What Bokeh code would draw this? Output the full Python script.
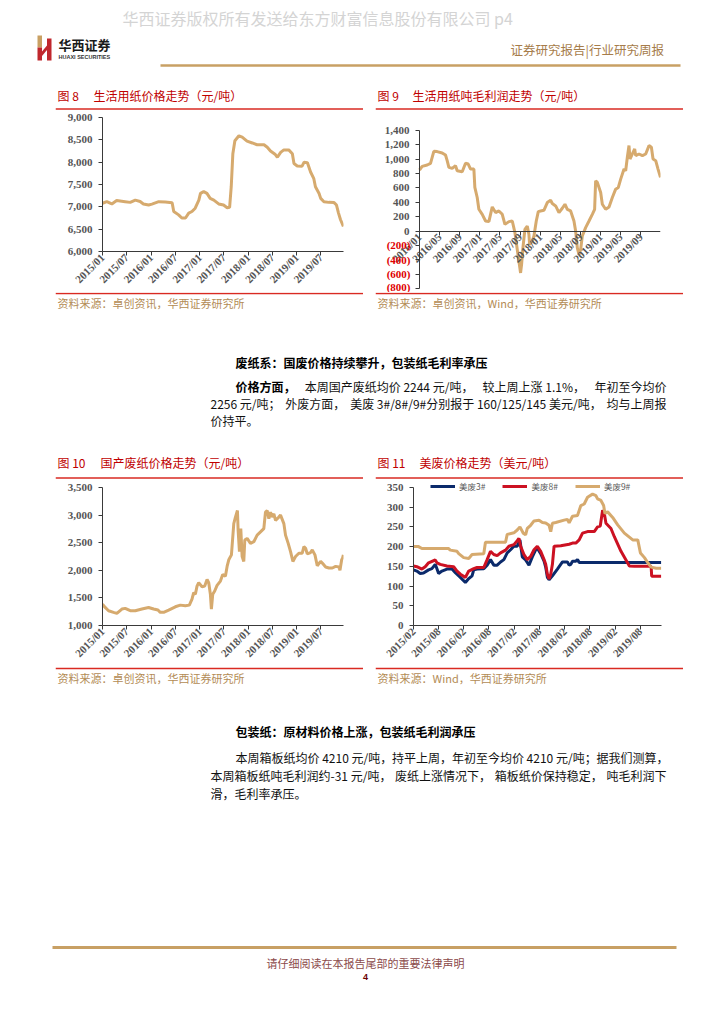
import numpy as np
import pandas as pd
from math import pi
from bokeh.plotting import figure
from bokeh.models import (Range1d, FixedTicker, NumeralTickFormatter, CustomJSTickFormatter,
                          Legend, LegendItem, Spacer, LinearAxis)
from bokeh.layouts import column, row
from bokeh.core.properties import value
from bokeh.embed import file_html
from bokeh.resources import INLINE

# ---------------- data (x = months after the series start date) ----------------
c8_start = "2015-01-01"
c8_months = [0, 1.07, 2.3, 3.5, 5.6, 6.85, 8.1, 9.3, 10.1, 11.4, 12.2, 13.9, 15.5, 17.2, 17.6, 18.8, 19.6,
             20.5, 21.3, 22.1, 22.9, 23.8, 24.2, 25.0, 25.8, 26.6, 27.5, 28.7, 29.9, 30.8, 31.4, 31.8, 32.2,
             32.7, 33.7, 34.5, 35.7, 37.0, 38.2, 39.9, 40.7, 41.5, 42.7, 43.2, 44.0, 44.8, 46.0, 46.9, 47.3,
             48.1, 49.3, 49.8, 50.6, 51.4, 52.2, 52.6, 53.5, 53.9, 54.7, 55.9, 57.2, 57.8, 58.3, 58.8, 59.5]
c8_price = [7080, 7117, 7065, 7140, 7115, 7100, 7150, 7120, 7065, 7040, 7060, 7115, 7110, 7090, 6895, 6820,
            6750, 6750, 6860, 6895, 6970, 7150, 7300, 7340, 7300, 7190, 7150, 7065, 7040, 6980, 6990, 7450,
            8190, 8480, 8590, 8560, 8470, 8430, 8390, 8390, 8335, 8250, 8170, 8110, 8220, 8275, 8275, 8190,
            7970, 7915, 7910, 8000, 7990, 7780, 7630, 7450, 7300, 7190, 7115, 7100, 7095, 7040, 6860, 6710, 6560]

c9_start = "2016-01-01"
c9_end = "2019-12-29"
c9_months = [0, 0.53, 1.53, 2.19, 2.52, 2.85, 3.51, 4.51, 5.17, 5.5, 5.84, 6.5, 7.16, 7.49, 8.49, 9.15, 9.68,
             10.15, 10.81, 11.0, 11.47, 11.8, 12.47, 13.13, 13.79, 14.46, 15.12, 15.78, 16.45, 16.98, 17.77,
             18.44, 18.97, 19.43, 19.76, 20.09, 20.29, 20.56, 20.95, 21.42, 21.75, 21.88, 22.41, 22.75, 23.21,
             23.61, 24.07, 24.73, 25.4, 26.06, 26.39, 27.06, 27.72, 28.38, 28.91, 29.38, 30.04, 30.7, 31.03,
             31.37, 31.7, 32.03, 32.36, 33.02, 33.69, 34.35, 34.81, 35.01, 35.35, 35.68, 36.01, 36.34, 37.0,
             37.67, 38.33, 38.99, 39.52, 39.99, 40.65, 40.98, 41.31, 41.64, 41.84, 42.31, 42.77, 42.97, 43.63,
             44.3, 44.96, 45.62, 46.09, 46.42, 46.95, 47.41, 47.9]
c9_profit = [850, 900, 920, 943, 1027, 1110, 1106, 1087, 1059, 980, 887, 873, 910, 840, 826, 943, 933, 863,
             863, 607, 467, 303, 233, 140, 131, 336, 257, 280, 233, 93, 131, 140, -23, -257, -420, -583, -467,
             -233, 23, 70, -47, -187, -140, -70, 140, 271, 280, 289, 397, 429, 383, 350, 257, 317, 373, 303,
             280, 140, 0, -233, -327, -257, -70, 47, 140, 233, 303, 700, 677, 607, 537, 373, 303, 336, 467,
             583, 607, 723, 863, 840, 1027, 1190, 1003, 1073, 1143, 1050, 1073, 1050, 1073, 1190, 1167, 1003,
             980, 863, 747]

c10_start = "2015-01-01"
c10_months = [0, 0.66, 1.49, 2.72, 3.55, 4.79, 5.61, 6.85, 8.09, 9.74, 11.39, 12.62, 13.7, 14.27, 15.1,
              16.34, 17.99, 19.22, 20.46, 21.45, 22.11, 22.52, 22.94, 23.35, 23.76, 24.59, 25.25, 25.83, 26.24,
              26.65, 26.9, 27.23, 27.72, 28.3, 29.13, 29.7, 30.36, 30.78, 31.19, 31.85, 32.43, 32.84, 33.33,
              33.5, 33.83, 34.16, 34.49, 34.9, 35.15, 35.73, 36.55, 37.38, 38.2, 39.03, 39.85, 40.26, 40.68,
              41.09, 41.5, 41.91, 42.33, 42.74, 43.56, 43.98, 44.8, 45.21, 45.87, 46.45, 47.03, 47.69, 48.51,
              49.34, 49.75, 50.17, 50.58, 51.4, 51.82, 52.48, 53.05, 53.88, 54.29, 55.12, 55.94, 56.77, 57.59,
              58.42, 58.66, 59.08, 59.3, 59.5]
c10_price = [1387, 1327, 1268, 1238, 1220, 1298, 1310, 1268, 1268, 1298, 1327, 1298, 1280, 1238, 1238, 1280,
             1339, 1369, 1357, 1369, 1476, 1595, 1565, 1714, 1774, 1702, 1714, 1833, 1774, 1565, 1298, 1565,
             1625, 1726, 1804, 1923, 1893, 2071, 2190, 2280, 2845, 2964, 3083, 2726, 2339, 2756, 2250, 2161,
             2548, 2577, 2488, 2518, 2637, 2696, 2756, 3054, 3083, 2935, 3054, 2964, 3024, 2905, 2964, 3000,
             2845, 2637, 2488, 2339, 2161, 2250, 2310, 2310, 2429, 2399, 2298, 2322, 2369, 2280, 2083, 2161,
             2131, 2060, 2042, 2042, 2071, 2060, 2000, 2190, 2220, 2280]

c11_start = "2015-02-01"
c11_names = ["美废3#", "美废8#", "美废9#"]
c11_m3 = [0, 0.8, 1.59, 2.39, 3.59, 4.38, 5.18, 5.58, 5.98, 6.77, 7.97, 9.16, 9.96, 11.16, 12.35, 13.15,
          13.94, 14.34, 15.14, 16.73, 17.53, 18.33, 19.12, 19.92, 20.72, 21.51, 22.31, 23.11, 23.9, 24.7,
          25.34, 25.9, 26.69, 27.49, 28.29, 29.08, 29.48, 30.28, 31.08, 31.47, 31.87, 32.27, 33.07, 34.26,
          35.46, 36.65, 37.05, 37.45, 37.85, 38.65, 39.04, 39.44, 58.96]
c11_v3 = [141, 138, 132, 133, 141, 144, 155, 144, 132, 138, 143, 143, 134, 122, 109, 119, 126, 141, 143, 144,
          153, 167, 153, 153, 161, 167, 184, 192, 201, 201, 217, 174, 166, 153, 174, 192, 196, 182, 163, 148,
          122, 116, 126, 143, 161, 161, 153, 155, 163, 163, 167, 160, 160]
c11_m8 = [0, 0.8, 2.0, 2.79, 3.59, 5.18, 5.58, 6.37, 7.97, 9.56, 10.36, 11.16, 12.35, 13.15, 14.34, 15.14,
          16.73, 17.53, 18.33, 19.12, 19.92, 20.72, 21.91, 22.71, 23.9, 24.7, 25.1, 25.5, 26.29, 27.09, 27.89,
          28.69, 29.48, 30.28, 31.08, 31.47, 31.87, 32.27, 32.67, 33.07, 33.47, 35.06, 37.05, 37.85, 38.65,
          39.44, 40.24, 41.43, 43.03, 43.82, 44.46, 45.02, 45.42, 45.82, 47.01, 47.81, 49.4, 51.39, 52.59,
          56.57, 56.7, 58.96]
c11_v8 = [151, 149, 143, 149, 159, 166, 159, 155, 151, 149, 138, 130, 122, 138, 144, 147, 147, 167, 188, 180,
          177, 184, 191, 201, 205, 215, 221, 201, 180, 167, 175, 192, 201, 188, 167, 155, 130, 118, 130, 155,
          201, 202, 206, 209, 209, 217, 234, 238, 238, 250, 252, 292, 284, 259, 246, 225, 188, 151, 150, 150,
          125, 125]
c11_m9 = [0, 1.2, 2.0, 7.17, 8.37, 8.76, 10.36, 10.76, 11.95, 13.15, 13.94, 16.73, 17.13, 21.91, 22.31, 23.9,
          24.7, 25.34, 26.14, 26.69, 27.09, 27.89, 28.69, 29.88, 30.68, 31.47, 32.27, 32.67, 33.07, 33.86,
          35.86, 36.65, 37.05, 37.85, 39.04, 39.84, 40.64, 41.43, 42.63, 43.43, 43.82, 44.62, 45.26, 45.58,
          46.22, 47.41, 48.61, 50.2, 52.19, 53.39, 54.02, 54.98, 55.78, 56.57, 57.77, 58.96]
c11_v9 = [200, 200, 195, 195, 195, 191, 188, 182, 172, 170, 180, 182, 211, 211, 231, 235, 242, 250, 234, 230,
          246, 254, 265, 267, 261, 260, 254, 238, 259, 261, 267, 269, 260, 277, 279, 304, 308, 325, 333, 329,
          321, 317, 304, 284, 288, 274, 255, 234, 217, 217, 184, 172, 159, 148, 145, 145]

c8_xticks = ["2015-01-01", "2015-07-01", "2016-01-01", "2016-07-01", "2017-01-01", "2017-07-01",
             "2018-01-01", "2018-07-01", "2019-01-01", "2019-07-01"]
c9_xticks = ["2016-01-01", "2016-05-01", "2016-09-01", "2017-01-01", "2017-05-01", "2017-09-01",
             "2018-01-01", "2018-05-01", "2018-09-01", "2019-01-01", "2019-05-01", "2019-09-01"]
c11_xticks = ["2015-02-01", "2015-08-01", "2016-02-01", "2016-08-01", "2017-02-01", "2017-08-01",
              "2018-02-01", "2018-08-01", "2019-02-01", "2019-08-01"]
c8_yticks = [6000, 6500, 7000, 7500, 8000, 8500, 9000]
c9_yticks = [-800, -600, -400, -200, 0, 200, 400, 600, 800, 1000, 1200, 1400]
c10_yticks = [1000, 1500, 2000, 2500, 3000, 3500]
c11_yticks = [0, 50, 100, 150, 200, 250, 300, 350]

fig_nums = ["图 8", "图 9", "图 10", "图 11"]
titles = ["生活用纸价格走势（元/吨）", "生活用纸吨毛利润走势（元/吨）",
          "国产废纸价格走势（元/吨）", "美废价格走势（美元/吨）"]
sources = ["资料来源：卓创资讯，华西证券研究所", "资料来源：卓创资讯，Wind，华西证券研究所",
           "资料来源：卓创资讯，华西证券研究所", "资料来源：Wind，华西证券研究所"]

# ---------------- styles ----------------
CJK = "Noto Sans CJK SC"
TAN = "#d6aa6e"
RED_RULE = "#d92a22"
SRC = "#b38b55"
AXC = "#3a3a3a"
LBL = "#555555"


def ms(t):
    return pd.Timestamp(t).value / 1e6


def month_dates(start, months):
    return pd.Timestamp(start) + pd.to_timedelta(np.array(months) * 30.4375, unit="D")


def decor(w, h, x0, y0):
    p = figure(width=w, height=h, x_range=Range1d(x0, x0 + w), y_range=Range1d(y0 + h, y0),
               output_backend="svg", toolbar_location=None, min_border=0,
               min_border_left=0, min_border_right=0, min_border_top=0, min_border_bottom=0,
               x_axis_location=None, y_axis_location=None)
    p.frame_align = False
    p.grid.visible = False
    p.outline_line_color = None
    p.background_fill_color = "white"
    p.border_fill_color = "white"
    return p


def put(p, x, y, t, size, color, bold=False, font=CJK, align="left"):
    p.text(x=[x], y=[y], text=[t], text_font=value(font), text_font_size=value(size),
           text_color=color, text_font_style=value("bold" if bold else "normal"),
           text_align=value(align), text_baseline=value("middle"))


def est_width(s, px):
    w = 0.0
    for ch in s:
        if ord(ch) >= 0x2E80:
            w += 1.0
        elif ch.isdigit():
            w += 0.55
        elif ch == " ":
            w += 0.25
        elif ch == "%":
            w += 0.85
        elif ch in "./":
            w += 0.36
        elif ch == "#":
            w += 0.6
        elif ch == "-":
            w += 0.35
        else:
            w += 0.55
    return w * px


def justify(p, xl, xr, y, pieces, px=12, color="#111111"):
    widths = [est_width(t, px) for t, _ in pieces]
    gap = (xr - xl - sum(widths)) / (len(pieces) - 1)
    x = xl
    for (t, b), w in zip(pieces, widths):
        put(p, x, y, t, "%gpx" % px, "#000000" if b else color, bold=b)
        x += w + gap


date_fmt = CustomJSTickFormatter(code="""
const d = new Date(tick);
const m = d.getUTCMonth() + 1;
return d.getUTCFullYear() + '/' + (m < 10 ? '0' + m : '' + m);
""")


def style_axis(ax):
    ax.axis_line_color = AXC
    ax.axis_line_width = 1
    ax.major_tick_line_color = AXC
    ax.major_tick_out = 4
    ax.major_tick_in = 0
    ax.minor_tick_line_color = None
    ax.major_label_text_font = "Liberation Serif"
    ax.major_label_text_font_style = "bold"
    ax.major_label_text_font_size = "11px"
    ax.major_label_text_color = LBL


def chart(w, h, xr, yr, bl, br, bt, bb, xticks, yticks, y_axis=True):
    p = figure(width=w, height=h, x_axis_type="datetime", x_range=xr, y_range=yr,
               output_backend="svg", toolbar_location=None,
               y_axis_location="left" if y_axis else None,
               min_border_left=bl, min_border_right=br, min_border_top=bt, min_border_bottom=bb)
    p.frame_align = False
    p.grid.visible = False
    p.outline_line_color = None
    p.background_fill_color = "white"
    p.border_fill_color = "white"
    p.xaxis.ticker = FixedTicker(ticks=[ms(t) for t in xticks], minor_ticks=[])
    p.xaxis.formatter = date_fmt
    if y_axis:
        p.yaxis.ticker = FixedTicker(ticks=yticks, minor_ticks=[])
        p.yaxis.formatter = NumeralTickFormatter(format="0,0")
        p.yaxis.major_label_standoff = 6
    for ax in p.axis:
        style_axis(ax)
    p.xaxis.major_label_orientation = pi / 4
    p.xaxis.major_label_standoff = 0
    return p


def title_fig(h, x0, y0, num, t, tx, ty, ly):
    f = decor(308, h, x0, y0)
    put(f, x0 + 2, ty, num, "12px", "#c00000")
    put(f, tx, ty, t, "12px", "#c00000")
    f.line([x0, x0 + 308], [ly, ly], line_color=RED_RULE, line_width=1.5)
    return f


def source_fig(h, x0, y0, t, ly, ty):
    f = decor(308, h, x0, y0)
    f.line([x0, x0 + 308], [ly, ly], line_color=RED_RULE, line_width=1.5)
    put(f, x0 + 2, ty, t, "11px", SRC)
    return f


W = 720

# ---------------- header ----------------
hdr = decor(W, 80, 0, 0)
put(hdr, 122, 17, "华西证券版权所有发送给东方财富信息股份有限公司 p4", "16px", "#d4d4d4")
hdr.quad(left=[37], right=[41.5], top=[35], bottom=[47], fill_color="#c9a063", line_color=None)
hdr.quad(left=[37, 46.5], right=[41.5, 51], top=[47, 38], bottom=[60, 60], fill_color="#c0272d", line_color=None)
hdr.patch([41.5, 46.5, 46.5, 41.5], [51, 45, 49.5, 55.5], fill_color="#c0272d", line_color=None)
put(hdr, 58, 44, "华西证券", "13px", "#1a1a1a", bold=True)
put(hdr, 58, 56.5, "HUAXI SECURITIES", "5.5px", "#333333", bold=True, font="Liberation Sans")
put(hdr, 510, 49, "证券研究报告|行业研究周报", "12.5px", "#a67c4a")
hdr.line([160, 680], [65, 65], line_color="#c8a064", line_width=2.5)

# ---------------- chart 8 ----------------
p8 = chart(308, 182, Range1d(ms("2015-01-01"), ms("2019-12-18")), Range1d(6000, 9000),
           47, 20, 7, 39, c8_xticks, c8_yticks)
p8.line(month_dates(c8_start, c8_months), c8_price, line_color=TAN, line_width=3)

# ---------------- chart 9 (axes cross at the data origin inside a wider frame) ----------------
# frame: x 377..660, y 124..292 ; data origin x=419, 1400 at y=130, -800 at y=288
span9 = ms(c9_end) - ms(c9_start)
x9_lo = ms(c9_start) - span9 * (419 - 377) / (660 - 419)
upp9 = (c9_yticks[-1] - c9_yticks[0]) / (288 - 130)
y9_hi = c9_yticks[-1] + (130 - 124) * upp9
y9_lo = c9_yticks[0] - (292 - 288) * upp9
p9 = chart(308, 182, Range1d(x9_lo, ms(c9_end)), Range1d(y9_lo, y9_hi),
           2, 23, 14, 0, c9_xticks, c9_yticks, y_axis=False)
p9.xaxis.fixed_location = 0
p9.xaxis.bounds = (ms(c9_start), ms(c9_end))
ya = LinearAxis(fixed_location=ms(c9_start), bounds=(c9_yticks[0], c9_yticks[-1]),
                ticker=FixedTicker(ticks=c9_yticks, minor_ticks=[]),
                formatter=CustomJSTickFormatter(code="return tick < 0 ? '' : tick.toLocaleString('en-US');"))
style_axis(ya)
ya.major_label_standoff = 6
yb = LinearAxis(fixed_location=ms(c9_start),
                ticker=FixedTicker(ticks=[t for t in c9_yticks if t < 0], minor_ticks=[]),
                formatter=CustomJSTickFormatter(code="return '(' + Math.abs(tick).toLocaleString('en-US') + ')';"))
style_axis(yb)
yb.axis_line_color = None
yb.major_tick_line_color = None
yb.major_label_standoff = 5
yb.major_label_text_color = "#e00000"
p9.add_layout(ya, "left")
p9.add_layout(yb, "left")
p9.line(month_dates(c9_start, c9_months), c9_profit, line_color=TAN, line_width=3)

# ---------------- chart 10 ----------------
p10 = chart(308, 187, Range1d(ms("2015-01-01"), ms("2019-12-18")), Range1d(1000, 3500),
            47, 20, 8, 39, c8_xticks, c10_yticks)
p10.line(month_dates(c10_start, c10_months), c10_price, line_color=TAN, line_width=3)

# ---------------- chart 11 ----------------
# frame top at y=481 (room for the legend), 350 at y=487, 0 at y=627
y11_hi = c11_yticks[-1] * (627 - 481) / (627 - 487)
p11 = chart(308, 187, Range1d(ms("2015-02-01"), ms("2020-01-03")), Range1d(0, y11_hi),
            38, 22, 2, 39, c11_xticks, c11_yticks)
p11.yaxis.bounds = (0, c11_yticks[-1])
r3 = p11.line(month_dates(c11_start, c11_m3), c11_v3, line_color="#0b2a6b", line_width=3)
r8 = p11.line(month_dates(c11_start, c11_m8), c11_v8, line_color="#cc1122", line_width=3)
r9 = p11.line(month_dates(c11_start, c11_m9), c11_v9, line_color=TAN, line_width=3)
leg = Legend(items=[LegendItem(label=c11_names[0], renderers=[r3]),
                    LegendItem(label=c11_names[1], renderers=[r8]),
                    LegendItem(label=c11_names[2], renderers=[r9])],
             orientation="horizontal", location=(17, 132), glyph_width=25, glyph_height=14,
             label_height=14, label_standoff=4, spacing=17, padding=0, margin=0,
             border_line_color=None, background_fill_alpha=0,
             label_text_font=CJK, label_text_font_size="8.5px", label_text_color="#595959")
p11.add_layout(leg)

# ---------------- panels ----------------
t8 = title_fig(30, 55, 80, fig_nums[0], titles[0], 93, 95, 108.5)
t9 = title_fig(30, 375, 80, fig_nums[1], titles[1], 412, 95, 108.5)
s8 = source_fig(20, 55, 292, sources[0], 293, 302)
s9 = source_fig(20, 375, 292, sources[1], 293, 302)
t10 = title_fig(34, 55, 445, fig_nums[2], titles[2], 100, 462, 477.5)
t11 = title_fig(34, 375, 445, fig_nums[3], titles[3], 419, 462, 477.5)
s10 = source_fig(24, 55, 666, sources[2], 668, 677)
s11 = source_fig(24, 375, 666, sources[3], 668, 677)

rowB = row(Spacer(width=55, height=232), column(t8, p8, s8), Spacer(width=12, height=232),
           column(t9, p9, s9), Spacer(width=37, height=232))
rowD = row(Spacer(width=55, height=245), column(t10, p10, s10), Spacer(width=12, height=245),
           column(t11, p11, s11), Spacer(width=37, height=245))

BLK = "#111111"
# ---------------- text block 1 ----------------
tx1 = decor(W, 133, 0, 312)
put(tx1, 235, 362, "废纸系：国废价格持续攀升，包装纸毛利率承压", "12px", "#000000", bold=True)
justify(tx1, 235, 666, 386, [("价格方面，", True), ("本周国产废纸均价 2244 元/吨，", False),
                             ("较上周上涨 1.1%，", False), ("年初至今均价", False)])
justify(tx1, 210, 666, 403, [("2256 元/吨；", False), ("外废方面，", False),
                             ("美废 3#/8#/9#分别报于 160/125/145 美元/吨，", False), ("均与上周报", False)])
put(tx1, 210, 420, "价持平。", "12px", BLK)

# ---------------- text block 2 + footer ----------------
tx2 = decor(W, 330, 0, 690)
put(tx2, 235, 731, "包装纸：原材料价格上涨，包装纸毛利润承压", "12px", "#000000", bold=True)
justify(tx2, 235, 668, 757, [("本周箱板纸均价 4210 元/吨，", False), ("持平上周，", False),
                             ("年初至今均价 4210 元/吨；", False), ("据我们测算，", False)])
justify(tx2, 210, 666, 775, [("本周箱板纸吨毛利润约-31 元/吨，", False), ("废纸上涨情况下，", False),
                             ("箱板纸价保持稳定，", False), ("吨毛利润下", False)])
put(tx2, 210, 793, "滑，毛利率承压。", "12px", BLK)
tx2.line([52, 676], [947, 947], line_color="#c8a064", line_width=3)
put(tx2, 365, 962, "请仔细阅读在本报告尾部的重要法律声明", "11px", "#8b4a4a", align="center")
put(tx2, 365, 976, "4", "9px", "#6b0000", bold=True, font="Liberation Sans", align="center")

page = column(hdr, rowB, tx1, rowD, tx2)

open("out.html", "w").write(file_html(page, INLINE, title="华西证券 p4"))
